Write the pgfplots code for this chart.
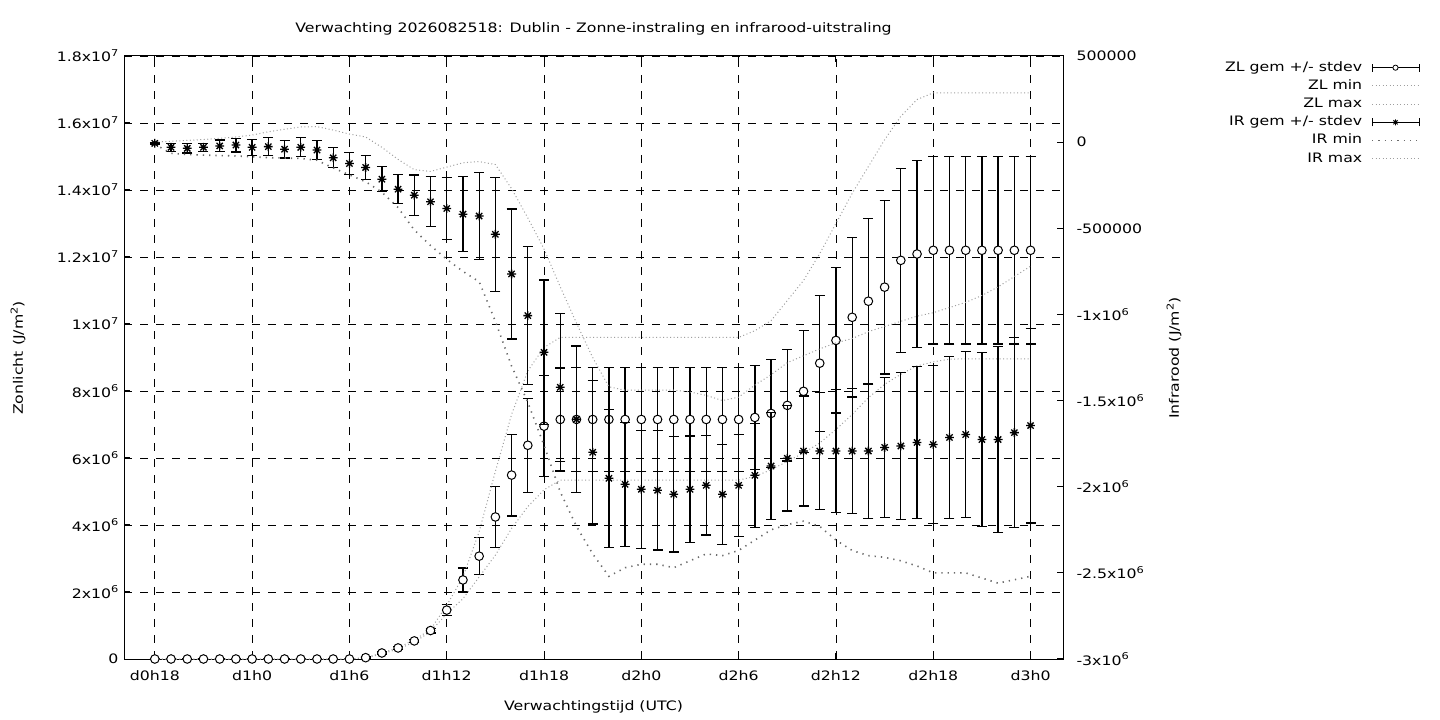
\documentclass[border=0pt]{standalone}
\usepackage{fontspec}
\setmainfont{DejaVu Sans}[FakeStretch=1.21]
\usepackage{pgfplots}
\pgfplotsset{compat=1.18}
\usepackage{pgfplotstable}
\newcommand\gpfont{\fontsize{13bp}{15bp}\selectfont}
\newcommand\sps[1]{\raisebox{5.3bp}{\fontsize{9.4bp}{9.4bp}\selectfont #1}}
\pgfdeclareplotmark{gpstar}{%
 \pgfpathmoveto{\pgfqpoint{-\pgfplotmarksize}{0pt}}\pgfpathlineto{\pgfqpoint{\pgfplotmarksize}{0pt}}%
 \pgfpathmoveto{\pgfqpoint{0pt}{-\pgfplotmarksize}}\pgfpathlineto{\pgfqpoint{0pt}{\pgfplotmarksize}}%
 \pgfpathmoveto{\pgfqpoint{-.707\pgfplotmarksize}{-.707\pgfplotmarksize}}\pgfpathlineto{\pgfqpoint{.707\pgfplotmarksize}{.707\pgfplotmarksize}}%
 \pgfpathmoveto{\pgfqpoint{-.707\pgfplotmarksize}{.707\pgfplotmarksize}}\pgfpathlineto{\pgfqpoint{.707\pgfplotmarksize}{-.707\pgfplotmarksize}}%
 \pgfusepathqstroke}
\pgfplotsset{legend image code/.code={\draw[#1] (0bp,0bp) -- (47bp,0bp);}}
\colorlet{lightdot}{black!38}
\colorlet{darkdot}{black!58}

% Zonlicht, 10^6 J/m2
\pgfplotstableread{
h m s
0 0 0
1 0 0
2 0 0
3 0 0
4 0 0
5 0 0
6 0 0
7 0 0
8 0 0
9 0 0
10 0 0
11 0 0
12 0 0
13 0.04 0.02
14 0.18 0.03
15 0.33 0.04
16 0.54 0.05
17 0.85 0.07
18 1.46 0.17
19 2.36 0.36
20 3.07 0.55
21 4.24 0.91
22 5.49 1.22
23 6.38 1.40
24 6.95 1.51
25 7.15 1.54
26 7.15 1.55
27 7.15 1.55
28 7.15 1.55
29 7.15 1.55
30 7.15 1.55
31 7.15 1.55
32 7.15 1.55
33 7.15 1.55
34 7.15 1.55
35 7.15 1.55
36 7.15 1.55
37 7.21 1.56
38 7.33 1.61
39 7.57 1.66
40 7.99 1.82
41 8.83 2.03
42 9.51 2.17
43 10.20 2.38
44 10.68 2.47
45 11.10 2.59
46 11.90 2.75
47 12.09 2.80
48 12.20 2.80
49 12.20 2.80
50 12.20 2.80
51 12.20 2.80
52 12.20 2.80
53 12.20 2.80
54 12.20 2.80
}\zltab

\pgfplotstableread{
h lo hi
0 0 0
1 0 0
2 0 0
3 0 0
4 0 0
5 0 0
6 0 0
7 0 0
8 0 0
9 0 0
10 0 0
11 0 0
12 0 0
13 0.03 0.04
14 0.15 0.18
15 0.30 0.34
16 0.50 0.57
17 0.82 0.88
18 1.35 1.60
19 1.80 2.45
20 2.45 3.80
21 3.10 5.60
22 3.90 7.30
23 4.55 8.60
24 5.05 9.30
25 5.34 9.60
26 5.34 9.60
27 5.34 9.60
28 5.34 9.60
29 5.34 9.60
30 5.34 9.60
31 5.34 9.60
32 5.34 9.60
33 5.34 9.60
34 5.34 9.60
35 5.34 9.60
36 5.34 9.60
37 5.45 9.80
38 5.65 10.10
39 5.90 10.70
40 6.15 11.30
41 6.45 12.10
42 6.85 13.00
43 7.30 13.90
44 7.80 14.70
45 8.20 15.50
46 8.50 16.20
47 8.75 16.70
48 8.87 16.90
49 8.95 16.90
50 8.96 16.90
51 8.96 16.90
52 8.96 16.90
53 8.96 16.90
54 8.96 16.90
}\zlmm

% Infrarood, 10^6 J/m2
\pgfplotstableread{
h m s
0 -0.007 0.003
1 -0.030 0.024
2 -0.036 0.027
3 -0.030 0.024
4 -0.022 0.034
5 -0.017 0.040
6 -0.030 0.046
7 -0.026 0.051
8 -0.041 0.051
9 -0.030 0.055
10 -0.046 0.055
11 -0.091 0.058
12 -0.124 0.063
13 -0.147 0.068
14 -0.215 0.073
15 -0.273 0.084
16 -0.308 0.117
17 -0.346 0.145
18 -0.385 0.180
19 -0.418 0.218
20 -0.429 0.254
21 -0.535 0.330
22 -0.765 0.377
23 -1.007 0.400
24 -1.220 0.420
25 -1.423 0.430
26 -1.609 0.426
27 -1.800 0.416
28 -1.951 0.400
29 -1.986 0.360
30 -2.015 0.342
31 -2.021 0.346
32 -2.044 0.335
33 -2.015 0.310
34 -1.992 0.288
35 -2.044 0.290
36 -1.992 0.297
37 -1.934 0.302
38 -1.880 0.310
39 -1.835 0.306
40 -1.793 0.319
41 -1.793 0.339
42 -1.793 0.358
43 -1.793 0.362
44 -1.793 0.391
45 -1.772 0.406
46 -1.764 0.426
47 -1.743 0.441
48 -1.755 0.458
49 -1.714 0.470
50 -1.697 0.482
51 -1.726 0.503
52 -1.726 0.538
53 -1.686 0.551
54 -1.645 0.565
}\irtab

\pgfplotstableread{
h lo hi
0 -0.012 0.000
1 -0.065 0.005
2 -0.072 0.010
3 -0.075 0.015
4 -0.078 0.022
5 -0.080 0.030
6 -0.085 0.041
7 -0.090 0.060
8 -0.092 0.075
9 -0.095 0.088
10 -0.105 0.090
11 -0.150 0.070
12 -0.190 0.047
13 -0.230 0.030
14 -0.290 -0.030
15 -0.380 -0.100
16 -0.510 -0.160
17 -0.600 -0.170
18 -0.680 -0.145
19 -0.750 -0.120
20 -0.810 -0.113
21 -1.040 -0.130
22 -1.300 -0.270
23 -1.510 -0.440
24 -1.760 -0.620
25 -2.030 -0.840
26 -2.230 -1.050
27 -2.390 -1.250
28 -2.520 -1.420
29 -2.470 -1.440
30 -2.450 -1.440
31 -2.450 -1.440
32 -2.470 -1.440
33 -2.430 -1.450
34 -2.390 -1.470
35 -2.400 -1.500
36 -2.370 -1.480
37 -2.310 -1.410
38 -2.250 -1.350
39 -2.220 -1.280
40 -2.200 -1.240
41 -2.230 -1.200
42 -2.310 -1.165
43 -2.370 -1.140
44 -2.400 -1.100
45 -2.410 -1.070
46 -2.430 -1.040
47 -2.460 -1.010
48 -2.500 -0.990
49 -2.500 -0.960
50 -2.500 -0.930
51 -2.530 -0.890
52 -2.560 -0.840
53 -2.540 -0.780
54 -2.520 -0.720
}\irmm

\begin{document}
\gpfont
\begin{tikzpicture}
\path[use as bounding box] (0,0) rectangle (1440bp,720bp);
\begin{axis}[
  at={(124bp,61bp)}, anchor=south west,
  width=939bp, height=603bp, scale only axis,
  xmin=-1.9, xmax=56, ymin=0, ymax=18,
  clip=false,
  axis line style={black, line width=1bp},
  tick align=inside, major tick length=6bp,
  tick style={black, line width=1bp},
  xtick={0,6,...,54},
  xticklabels={d0h18,d1h0,d1h6,d1h12,d1h18,d2h0,d2h6,d2h12,d2h18,d3h0},
  ytick={0,2,...,18},
  yticklabels={0,2x10\sps{6},4x10\sps{6},6x10\sps{6},8x10\sps{6},1x10\sps{7},1.2x10\sps{7},1.4x10\sps{7},1.6x10\sps{7},1.8x10\sps{7}},
  ytick pos=left,
  ticklabel style={font=\gpfont},
  xticklabel style={yshift=-7bp},
  yticklabel style={xshift=-1bp},
  grid=major,
  major grid style={black, line width=0.9bp, dash pattern=on 8bp off 8bp},
]
\addplot[forget plot, only marks, mark=*, mark size=4.3bp,
  mark options={fill=white, draw=black, line width=1bp},
  error bars/.cd, y dir=both, y explicit,
  error bar style={line width=1.3bp, black},
  error mark options={rotate=90, mark size=5bp, line width=1.3bp, black}]
  table[x=h, y=m, y error=s] {\zltab};
\addplot[forget plot, no marks, lightdot, line width=1bp, dash pattern=on 1bp off 2.5bp] table[x=h, y=lo] {\zlmm};
\addplot[forget plot, no marks, lightdot, line width=1bp, dash pattern=on 1bp off 2.5bp] table[x=h, y=hi] {\zlmm};
\end{axis}
\begin{axis}[
  at={(124bp,61bp)}, anchor=south west,
  width=939bp, height=603bp, scale only axis,
  xmin=-1.9, xmax=56, ymin=-3, ymax=0.5,
  clip=false,
  axis x line=none, axis y line*=right,
  axis line style={black, line width=1bp},
  tick align=inside, major tick length=6bp,
  tick style={black, line width=1bp},
  ytick={-3,-2.5,-2,-1.5,-1,-0.5,0,0.5},
  yticklabels={-3x10\sps{6},-2.5x10\sps{6},-2x10\sps{6},-1.5x10\sps{6},-1x10\sps{6},-500000,0,500000},
  ticklabel style={font=\gpfont},
  yticklabel style={xshift=9bp},
  legend style={at={(1,1)}, anchor=north east, xshift=357bp, yshift=-4bp,
    draw=none, fill=none, font=\gpfont, row sep=3.2bp, column sep=8bp, inner sep=0pt,
    nodes={inner sep=1bp, text height=10bp, text depth=3bp}},
  legend cell align=right, legend plot pos=right,
]
\addplot[forget plot, only marks, mark=gpstar, mark size=4.4bp,
  mark options={black, line width=1.3bp},
  error bars/.cd, y dir=both, y explicit,
  error bar style={line width=1.3bp, black},
  error mark options={rotate=90, mark size=5bp, line width=1.3bp, black}]
  table[x=h, y=m, y error=s] {\irtab};
\addplot[forget plot, no marks, darkdot, line width=1.6bp, dash pattern=on 1.3bp off 5bp] table[x=h, y=lo] {\irmm};
\addplot[forget plot, no marks, lightdot, line width=1bp, dash pattern=on 1bp off 2.5bp] table[x=h, y=hi] {\irmm};

\addlegendimage{legend image code/.code={
  \draw[black, line width=1bp] (0bp,0bp) -- (47bp,0bp) (0bp,-4bp) -- (0bp,4bp) (47bp,-4bp) -- (47bp,4bp);
  \draw[black, fill=white, line width=0.8bp] (23.5bp,0bp) circle (2.6bp);}}
\addlegendentry{ZL gem +/- stdev}
\addlegendimage{lightdot, line width=1bp, dash pattern=on 1bp off 2.5bp}
\addlegendentry{ZL min}
\addlegendimage{lightdot, line width=1bp, dash pattern=on 1bp off 2.5bp}
\addlegendentry{ZL max}
\addlegendimage{legend image code/.code={
  \draw[black, line width=1bp] (0bp,0bp) -- (47bp,0bp) (0bp,-4bp) -- (0bp,4bp) (47bp,-4bp) -- (47bp,4bp);
  \draw[black, line width=0.9bp] (20.5bp,0bp) -- (26.5bp,0bp) (23.5bp,-3bp) -- (23.5bp,3bp) (21.4bp,-2.1bp) -- (25.6bp,2.1bp) (21.4bp,2.1bp) -- (25.6bp,-2.1bp);}}
\addlegendentry{IR gem +/- stdev}
\addlegendimage{darkdot, line width=1.6bp, dash pattern=on 1.3bp off 5bp}
\addlegendentry{IR min}
\addlegendimage{lightdot, line width=1bp, dash pattern=on 1bp off 2.5bp}
\addlegendentry{IR max}
\end{axis}
\node[font=\gpfont] at (593.5bp,691bp) {Verwachting 2026082518: Dublin - Zonne-instraling en infrarood-uitstraling};
\node[font=\gpfont] at (593.5bp,13bp) {Verwachtingstijd (UTC)};
\node[font=\gpfont, rotate=90] at (18bp,362bp) {Zonlicht (J/m\sps{2})};
\node[font=\gpfont, rotate=90] at (1174bp,362bp) {Infrarood (J/m\sps{2})};
\end{tikzpicture}
\end{document}
